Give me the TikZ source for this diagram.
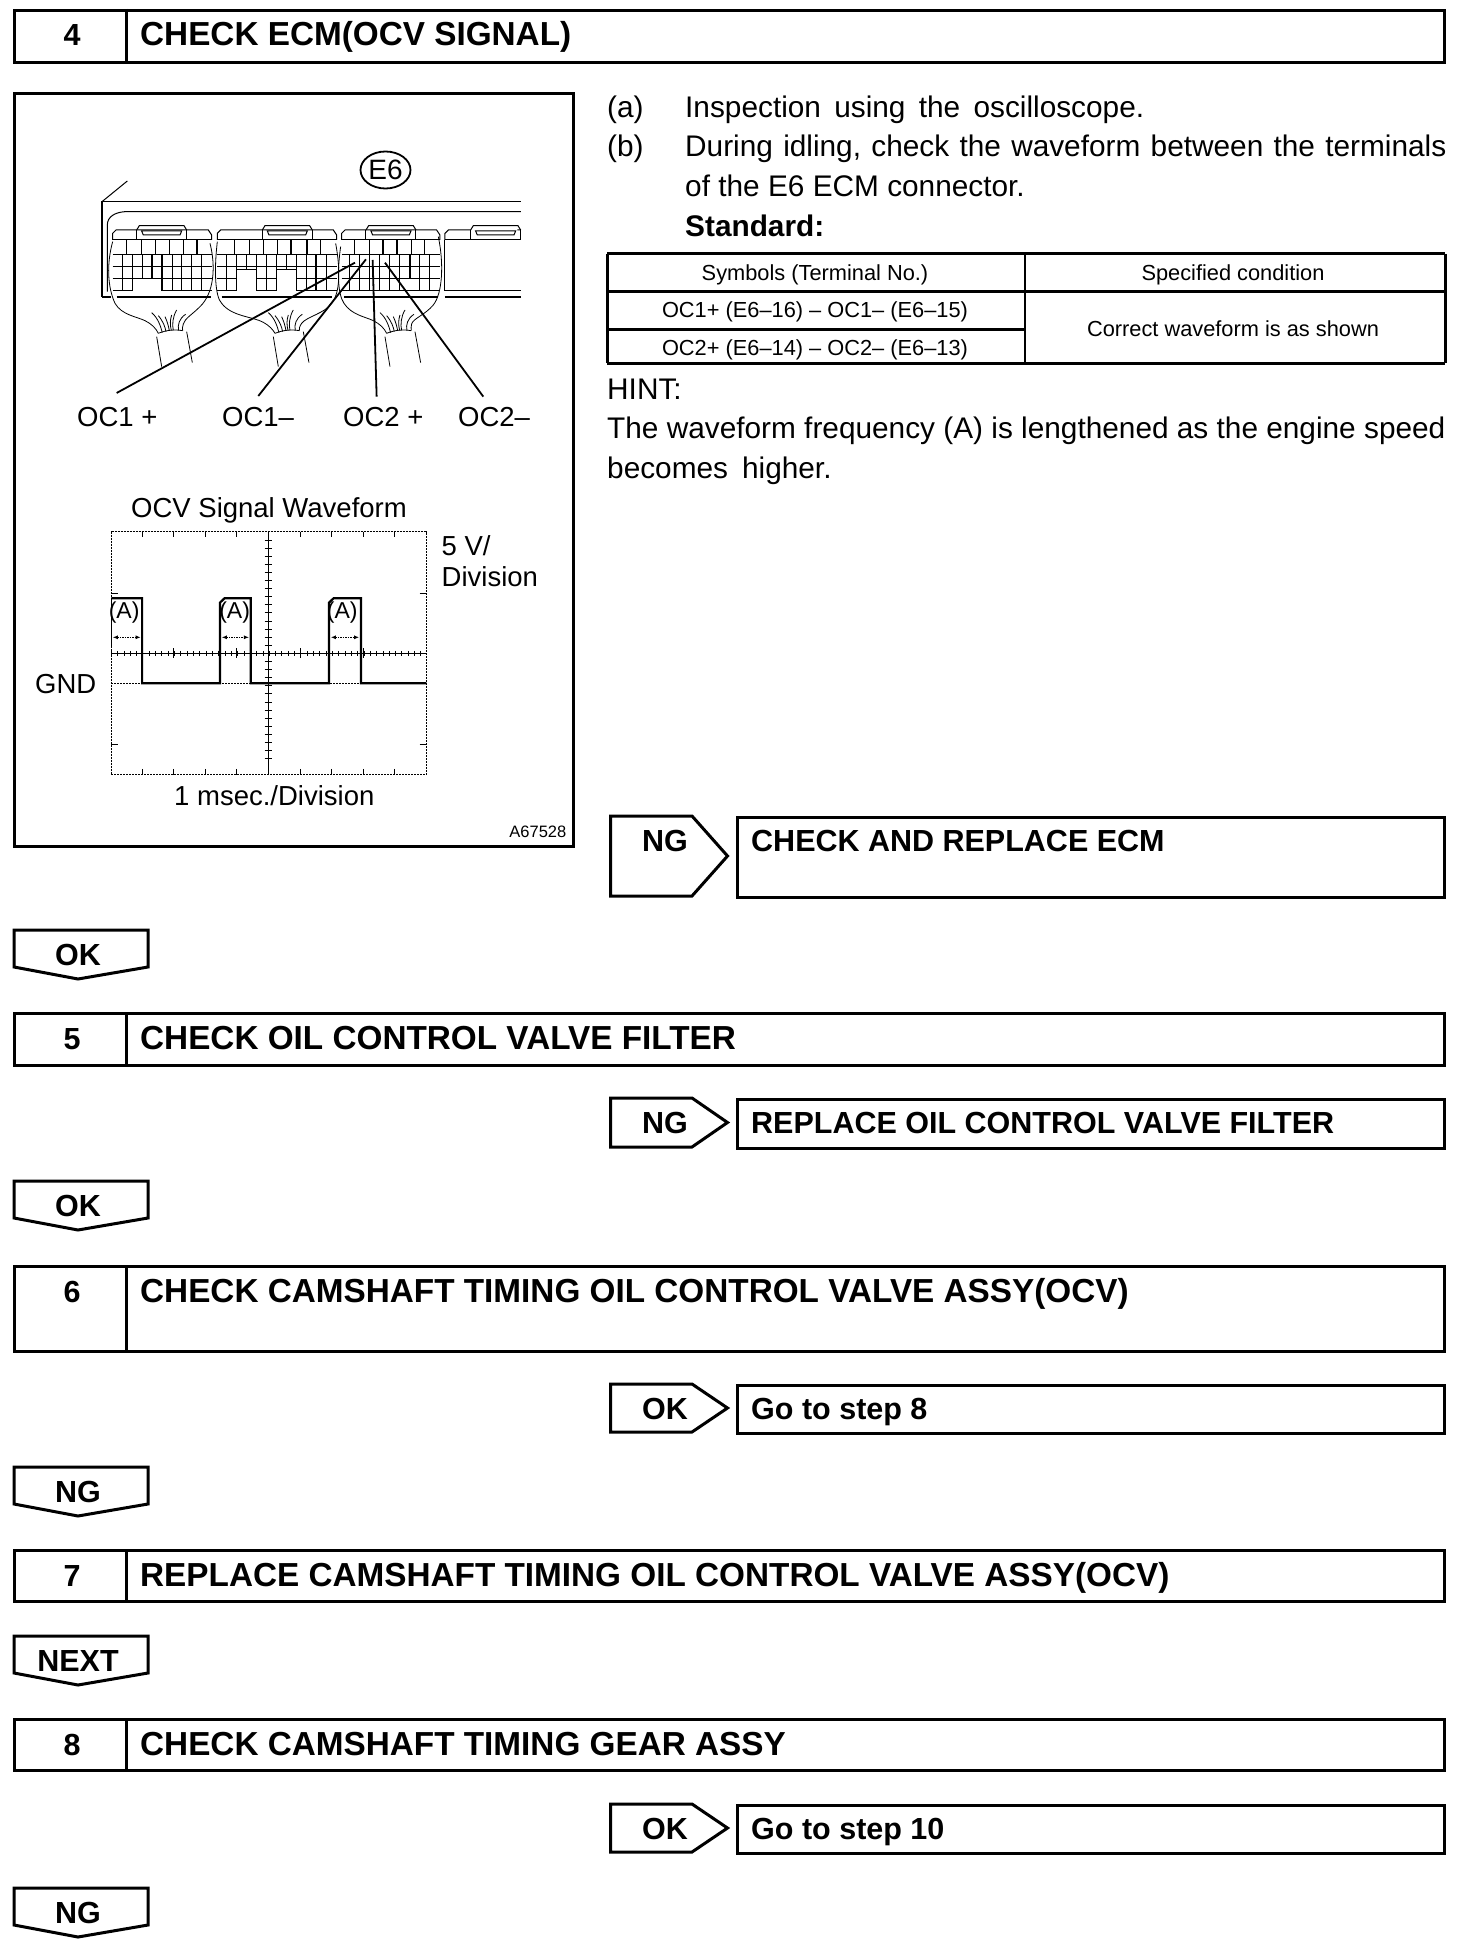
\documentclass[tikz,border=0pt]{standalone}
\usepackage{fontspec}
\setmainfont{Liberation Sans}
\usetikzlibrary{shapes.geometric,arrows.meta}
\tikzset{
  fs/.style={font=\fontsize{#1}{#1}\selectfont},
  bodytxt/.style={fs=29.8,anchor=base west,inner sep=0pt},
  smalltxt/.style={fs=21.8,anchor=base,inner sep=0pt},
  figtxt/.style={fs=27.5,anchor=base west,inner sep=0pt},
  boldtxt/.style={font=\fontsize{30.5}{31}\selectfont\bfseries,anchor=base west,inner sep=0pt},
  headtxt/.style={font=\fontsize{33.3}{34}\selectfont\bfseries,anchor=base west,inner sep=0pt},
  boldmid/.style={font=\fontsize{30.5}{31}\selectfont\bfseries,anchor=base,inner sep=0pt},
  framebox/.style={draw,line width=3pt,anchor=north west,inner sep=0pt},
  rule/.style={line width=3pt},
  tabline/.style={line width=3pt,line join=miter},
  thin1/.style={line width=0.8pt},
  thin2/.style={line width=1pt},
  thick2/.style={line width=2.2pt},
  leader/.style={line width=1.8pt},
  dotgrid/.style={line width=0.9pt,dash pattern=on 2pt off 1pt},
  wave/.style={line width=2.2pt},
  tick1/.style={line width=0.8pt}
}
% header bar: name, top, bottom, number, text
\newcommand{\hdrbar}[5]{%
  \pgfmathsetmacro{\hh}{#3-#2}
  \node[framebox,minimum width=1429.5pt,minimum height=\hh pt] (#1) at (13,#2) {};
  \coordinate (#1dt) at (126,#2);
  \coordinate (#1db) at (126,#3);
  \draw[rule] (#1dt) -- (#1db);
  \node[boldmid] (#1num) at (72,{#2+37}) {#4};
  \node[headtxt] (#1txt) at (140,{#2+37}) {#5};
}
% side result: name, top, bottom, label, text
\newcommand{\sideres}[5]{%
  \pgfmathsetmacro{\hh}{#3-#2}
  \pgfmathsetmacro{\mm}{(#2+#3)/2}
  \draw[tabline] (610.5,#2) -- (692,#2) -- (727.5,\mm) -- (692,#3) -- (610.5,#3) -- cycle;
  \node[framebox,minimum width=706.5pt,minimum height=\hh pt] (#1) at (736,#2) {};
  \node[boldmid] (#1lab) at (665,{#2+35}) {#4};
  \node[boldtxt] (#1txt) at (751,{#2+35}) {#5};
}
% down tab: name, top, label
\newcommand{\downtab}[3]{%
  \draw[tabline] (14,#2) -- (148,#2) -- (148,{#2+37}) -- (78,{#2+49}) -- (14,{#2+37}) -- cycle;
  \node[boldmid] (#1) at (78,{#2+35}) {#3};
}
% connector latch tab, zoom units; #1 = left x
\newcommand{\ecutab}[1]{%
  \begin{scope}[shift={(#1-140,0)}]
  \draw[thin2] (140,180)--(148,167)--(282,167)--(290,180);
  \draw[thin2] (140,180)--(140,210) (290,180)--(290,210);
  \draw[thin2] (155,183)--(275,183)--(270,195)--(160,195)--cycle;
  \end{scope}
}
% wire bundle, zoom units; #1 = x offset
\newcommand{\ecuwires}[1]{%
  \begin{scope}[shift={(#1,0)}]
  \draw[thin1] (205,490) .. controls (230,480) and (255,478) .. (278,482);
  \draw[thin1] (200,500)--(215,590) (290,485)--(307,578);
  \draw[thin1] (185,428) .. controls (205,445) and (212,470) .. (217,488);
  \draw[thin1] (205,437) .. controls (220,455) and (225,470) .. (228,485);
  \draw[thin1] (225,440) .. controls (232,455) and (236,470) .. (238,482);
  \draw[thin1] (260,420) .. controls (248,440) and (246,465) .. (250,481);
  \draw[thin1] (245,435) .. controls (240,450) and (240,465) .. (244,481);
  \draw[thin1] (287,433) .. controls (268,445) and (262,465) .. (266,481);
  \end{scope}
}
\begin{document}
\begin{tikzpicture}[x=1pt,y=-1pt,line cap=butt]
\useasboundingbox (0,0) rectangle (1472,1950);
\fill[white] (0,0) rectangle (1472,1950);

\hdrbar{hfour}{9}{61}{4}{CHECK ECM(OCV SIGNAL)}
\hdrbar{hfive}{1012}{1064}{5}{CHECK OIL CONTROL VALVE FILTER}
\hdrbar{hsix}{1265}{1350}{6}{CHECK CAMSHAFT TIMING OIL CONTROL VALVE ASSY(OCV)}
\hdrbar{hseven}{1549}{1600}{7}{REPLACE CAMSHAFT TIMING OIL CONTROL VALVE ASSY(OCV)}
\hdrbar{height}{1718}{1769}{8}{CHECK CAMSHAFT TIMING GEAR ASSY}

\sideres{rone}{816}{896}{NG}{CHECK AND REPLACE ECM}
\sideres{rtwo}{1098}{1147}{NG}{REPLACE OIL CONTROL VALVE FILTER}
\sideres{rthree}{1384}{1432}{OK}{Go to step 8}
\sideres{rfour}{1804}{1852}{OK}{Go to step 10}

\downtab{tone}{930}{OK}
\downtab{ttwo}{1181}{OK}
\downtab{tthree}{1467}{NG}
\downtab{tfour}{1636}{NEXT}
\downtab{tfive}{1888}{NG}

% figure frame
\node[draw,line width=3.4pt,anchor=north west,inner sep=0pt,minimum width=559pt,minimum height=753pt] (figframe) at (13,92) {};

\node[draw,ellipse,line width=1.8pt,minimum width=50pt,minimum height=37pt,inner sep=0pt,fs=28] (esix) at (385.5,170) {E6};

% connector drawing, zoom units
\begin{scope}[shift={(90,170)},x=0.3333pt,y=-0.3333pt]
  \draw[thin2] (112,33)--(36,95);
  \draw[line width=1.3pt] (36,380)--(36,95)--(1293,95);
  \draw[thin2] (1293,125)--(105,125) .. controls (75,127) and (52,140) .. (52,165)--(52,365);
  \draw[thick2] (36,380)--(62,380) (80,380)--(362,380) (395,380)--(725,380) (762,380)--(1045,380) (1065,380)--(1293,380);
  % shoulders
  \foreach \a/\b in {68/365,382/740,755/1050} {
    \draw[thin2] (\a,210)--(\a,190)--({\a+10},180)--({\b-10},180)--(\b,195)--(\b,210);
  }
  \draw[thin2] (1065,210)--(1065,190)--(1075,180)--(1142,180) (1282,180)--(1293,180);
  \draw[thin2] (1065,210)--(1293,210) (1065,210)--(1065,363)--(1293,363);
  % horizontal rows
  \foreach \a/\b in {68/365,382/740,755/1050} {
    \draw[thin2] (\a,210)--(\b,210);
    \foreach \yy in {254,290,325,363} \draw[thin2] (\a,\yy)--(\b,\yy);
  }
  % top-row verticals
  \foreach \xx in {110,155,197,240,280,433,478,520,562,693,795,840,965,1005}
    \draw[thin2] (\xx,210)--(\xx,254);
  \foreach \xx in {320,603,650,878,920}
    \draw[thick2] (\xx,210)--(\xx,254);
  % lower-row verticals
  \foreach \xx in {97,127,157,247,275,305,335,410,440,470,500,530,560,590,620,650,710,780,810,840,870,900,930,990,1020}
    \draw[thin2] (\xx,254)--(\xx,363);
  % merged blocks
  \fill[white] (128,327) rectangle (214,362);
  \fill[white] (441,298) rectangle (499,362);
  \fill[white] (561,298) rectangle (619,362);
  \draw[thin2] (440,298)--(500,298) (560,298)--(620,298);
  \draw[thick2] (185,254)--(185,325) (215,254)--(215,363) (678,254)--(678,363) (960,254)--(960,325);
  % hoods
  \draw[thin1] (68,215) .. controls (50,280) and (52,350) .. (75,400) .. controls (95,435) and (140,440) .. (165,452) .. controls (185,462) and (198,475) .. (205,490);
  \draw[thin1] (360,220) .. controls (378,290) and (372,370) .. (330,410) .. controls (305,435) and (285,445) .. (280,462) .. controls (277,470) and (277,476) .. (278,482);
  \draw[thin1] (382,215) .. controls (372,300) and (375,380) .. (395,400) .. controls (425,440) and (490,440) .. (520,457) .. controls (538,467) and (548,478) .. (555,490);
  \draw[thin1] (737,220) .. controls (752,300) and (750,370) .. (725,400) .. controls (705,430) and (650,440) .. (635,460) .. controls (628,470) and (627,478) .. (628,482);
  \draw[thin1] (752,230) .. controls (742,300) and (742,370) .. (762,400) .. controls (785,435) and (825,440) .. (850,452) .. controls (870,462) and (883,475) .. (890,490);
  \draw[thin1] (1045,200) .. controls (1062,280) and (1058,370) .. (1030,405) .. controls (1005,435) and (970,445) .. (965,462) .. controls (963,470) and (963,476) .. (964,482);
  \ecuwires{0}\ecuwires{350}\ecuwires{685}
  \ecutab{140}\ecutab{517}\ecutab{828}\ecutab{1142}
  \coordinate (pa) at (795,278);
  \coordinate (pb) at (828,268);
  \coordinate (pc) at (848,270);
  \coordinate (pd) at (885,278);
  \coordinate (qa) at (80,669);
  \coordinate (qb) at (505,678);
  \coordinate (qc) at (860,680);
  \coordinate (qd) at (1180,680);
  \draw[leader] (qa)--(pa);
  \draw[leader] (qb)--(pb);
  \draw[leader] (qc)--(pc);
  \draw[leader] (qd)--(pd);
\end{scope}
\node[figtxt] (la) at (77,426) {OC1 +};
\node[figtxt] (lb) at (222,426) {OC1--};
\node[figtxt] (lc) at (343,426) {OC2 +};
\node[figtxt] (ld) at (458,426) {OC2--};

% waveform
\begin{scope}[shift={(0,480)},x=0.376pt,y=-0.3333pt]
  \draw[dotgrid] (296,155) rectangle (1134,884);
  \draw[tick1] (714,155)--(714,884);
  \draw[line width=1pt] (296,520)--(1134,520);
  \draw[dotgrid] (296,610)--(1134,610);
  \foreach \xx in {378,462,546,630,798,882,966,1050} {
    \draw[tick1] (\xx,155)--(\xx,172);
    \draw[tick1] (\xx,867)--(\xx,884);
  }
  \foreach \yy in {340,792} {
    \draw[tick1] (296,\yy)--(314,\yy);
    \draw[tick1] (1116,\yy)--(1134,\yy);
  }
  \foreach \k in {0,...,27} \draw[tick1] (704,{180+24.3*\k})--(724,{180+24.3*\k});
  \foreach \k in {0,...,49} \draw[tick1] ({296+16.8*\k},513)--({296+16.8*\k},528);
  \foreach \xx in {462,630,798,966} \draw[tick1] (\xx,505)--(\xx,535);
  \draw[wave,line join=miter] (296,355)--(378,355)--(378,610)--(585,610)--(585,368)--(597,355)--(667,355)--(667,610)--(875,610)--(875,368)--(887,355)--(960,355)--(960,610)--(1134,610);
  \draw[line width=0.8pt] (296,355)--(296,500);
  \foreach \aa/\bb in {300/374,590/662,880/955}
    \draw[line width=0.9pt,dash pattern=on 1.5pt off 1pt,{Latex[length=5pt,width=4pt]}-{Latex[length=5pt,width=4pt]}] (\aa,472)--(\bb,472);
  \node[fs=23,inner sep=0pt,anchor=base] (ma) at (330,415) {(A)};
  \node[fs=23,inner sep=0pt,anchor=base] (mb) at (624,415) {(A)};
  \node[fs=23,inner sep=0pt,anchor=base] (mc) at (910,415) {(A)};
\end{scope}
\node[figtxt] (wt) at (131,517) {OCV Signal Waveform};
\node[figtxt] (vd) at (441.5,555) {5 V/};
\node[figtxt] (ve) at (441.5,586) {Division};
\node[figtxt] (gnd) at (35,693) {GND};
\node[figtxt] (ms) at (174,805) {1 msec./Division};
\node[fs=16.5,inner sep=0pt,anchor=base east] (code) at (566.5,837) {A67528};

% right text
\node[bodytxt] (ta) at (607,118) {(a)};
\node[bodytxt] (tat) at (685,118) {\spaceskip=13.3pt Inspection using the oscilloscope.};
\node[bodytxt] (tb) at (607,157) {(b)};
\node[bodytxt] (tbt) at (685,157) {\spaceskip=10.3pt During idling, check the waveform between the terminals};
\node[bodytxt] (tc) at (685,197) {of the E6 ECM connector.};
\node[bodytxt,font=\fontsize{29.8}{30}\selectfont\bfseries] (td) at (685,237) {Standard:};

% table
\coordinate (t1) at (607,254); \coordinate (t2) at (1445,254);
\coordinate (t3) at (607,292); \coordinate (t4) at (1445,292);
\coordinate (t5) at (607,329); \coordinate (t6) at (1025,329);
\coordinate (t7) at (607,363); \coordinate (t8) at (1445,363);
\coordinate (t9) at (1025,254); \coordinate (t10) at (1025,363);
\draw[rule] (t1)--(t2) (t3)--(t4) (t5)--(t6) (t7)--(t8) (t1)--(t7) (t2)--(t8);
\draw[line width=2.2pt] (t9)--(t10);
\node[smalltxt] (c1) at (815,281) {Symbols (Terminal No.)};
\node[smalltxt] (c2) at (1233,281) {Specified condition};
\node[smalltxt] (c3) at (815,318) {OC1+ (E6--16) -- OC1-- (E6--15)};
\node[smalltxt] (c4) at (815,355) {OC2+ (E6--14) -- OC2-- (E6--13)};
\node[smalltxt] (c5) at (1233,336) {Correct waveform is as shown};

\node[bodytxt] (h1) at (607,399) {HINT:};
\node[bodytxt] (h2) at (607,438) {The waveform frequency (A) is lengthened as the engine speed};
\node[bodytxt] (h3) at (607,478) {\spaceskip=14pt becomes higher.};
\end{tikzpicture}
\end{document}
